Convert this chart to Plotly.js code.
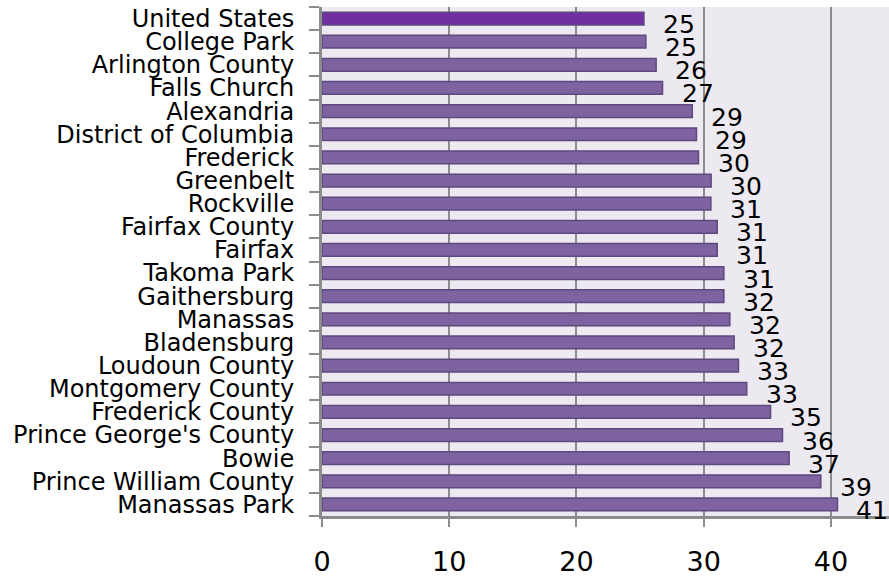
<!DOCTYPE html>
<html>
<head>
<meta charset="utf-8">
<script src="https://cdn.plot.ly/plotly-3.0.1.min.js"></script>
<style>html,body{margin:0;padding:0;background:#fff;}#chart{width:889px;height:580px;}</style>
</head>
<body>
<div id="chart"></div>
<script>
const places = ["United States","College Park","Arlington County","Falls Church","Alexandria","District of Columbia","Frederick","Greenbelt","Rockville","Fairfax County","Fairfax","Takoma Park","Gaithersburg","Manassas","Bladensburg","Loudoun County","Montgomery County","Frederick County","Prince George's County","Bowie","Prince William County","Manassas Park"];
const values = [25.3,25.45,26.26,26.76,29.1,29.43,29.59,30.58,30.56,31.06,31.06,31.58,31.58,32.05,32.39,32.73,33.38,35.25,36.19,36.71,39.2,40.51];
const valueLabels = ["25","25","26","27","29","29","30","30","31","31","31","31","32","32","32","33","33","35","36","37","39","41"];
const xTicks = [0,10,20,30,40];

const FONT = "DejaVu Sans, sans-serif";
const barColors = places.map((p,i)=> i===0 ? '#7030a0' : '#7f63a1');

const trace = {
  type:'bar', orientation:'h',
  x: values, y: places,
  width: 0.55,
  marker:{color: barColors, line:{color:'#5d4880', width:1.5}},
  hoverinfo:'none'
};

const annotations = places.map((p,i)=>({
  x: values[i], y: p, xref:'x', yref:'y',
  text: valueLabels[i], showarrow:false,
  xanchor:'left', yanchor:'middle',
  xshift: 17, yshift: -6,
  font:{family:FONT, size:25, color:'#000'}
}));

const layout = {
  width:889, height:580,
  margin:{l:322, r:0, t:7, b:64},
  paper_bgcolor:'#ffffff',
  plot_bgcolor:'#ece9f1',
  showlegend:false,
  xaxis:{
    range:[0,44.56], tickmode:'array', tickvals:xTicks, ticktext:xTicks.map(String),
    showgrid:true, gridcolor:'#8c8c8c', gridwidth:2,
    zeroline:false,
    showline:true, linecolor:'#8c8c8c', linewidth:3,
    ticks:'outside', ticklen:8, tickwidth:2, tickcolor:'#8c8c8c',
    ticklabelstandoff:12,
    tickfont:{family:FONT, size:27, color:'#000'},
    fixedrange:true
  },
  yaxis:{
    type:'category', categoryorder:'array', categoryarray:places,
    range:[places.length-0.5, -0.5],
    tickmode:'array', tickvals:places, ticktext:places,
    showgrid:false, zeroline:false,
    showline:true, linecolor:'#8c8c8c', linewidth:3,
    ticks:'outside', tickson:'boundaries', ticklen:10, tickwidth:2, tickcolor:'#8c8c8c',
    ticklabelstandoff:20,
    tickfont:{family:FONT, size:24, color:'#000'},
    fixedrange:true
  },
  annotations: annotations
};

Plotly.newPlot('chart',[trace],layout,{displayModeBar:false, staticPlot:true});
</script>
</body>
</html>
